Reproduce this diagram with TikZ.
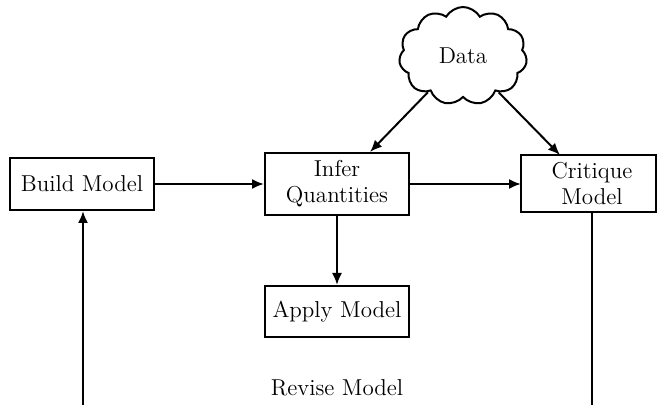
\documentclass[tikz,border=0pt]{standalone}
\usetikzlibrary{shapes.symbols,arrows.meta}
\begin{document}
\begin{tikzpicture}[x=0.5pt,y=-0.5pt,
  every node/.style={font=\fontsize{11.5}{13}\selectfont},
  box/.style={draw,line width=1pt,inner sep=0pt,align=center},
  conn/.style={line width=1pt,-{Latex[length=6pt,width=5pt]}},
  plain/.style={line width=1pt}]
\useasboundingbox (0,0) rectangle (657,405);
\begin{scope}
\clip (0,0) rectangle (657,405);
\node[box,minimum width=72pt,minimum height=26pt] (build) at (82,184) {Build Model};
\node[box,minimum width=72pt,minimum height=31pt] (infer) at (337,184) {Infer\\Quantities};
\draw[line width=1pt] (521,155) rectangle (656,212);
\node[align=center] (crit) at (592,183.5) {Critique\\Model};
\coordinate (critw) at (521,184);
\coordinate (critn) at (560,155);
\coordinate (crits) at (592,212);
\node[box,minimum width=72pt,minimum height=25.5pt] (apply) at (337,311.5) {Apply Model};
\node (revise) at (337,388) {Revise Model};
\node[cloud,draw,line width=1pt,cloud puffs=11,cloud puff arc=120,aspect=1.3,
  minimum width=64pt,minimum height=49pt,inner sep=0pt] (data) at (463,56) {Data};
\coordinate (infn) at (370,152);
\coordinate (botl) at (83,406);
\coordinate (botr) at (592,406);
\draw[conn] (data) -- (infn);
\draw[conn] (data) -- (critn);
\draw[conn] (build) -- (infer);
\draw[conn] (infer) -- (critw);
\draw[conn] (infer) -- (apply);
\draw[plain] (crits) -- (botr);
\draw[conn] (botl) -- (build.south -| botl);
\end{scope}
\end{tikzpicture}
\end{document}
